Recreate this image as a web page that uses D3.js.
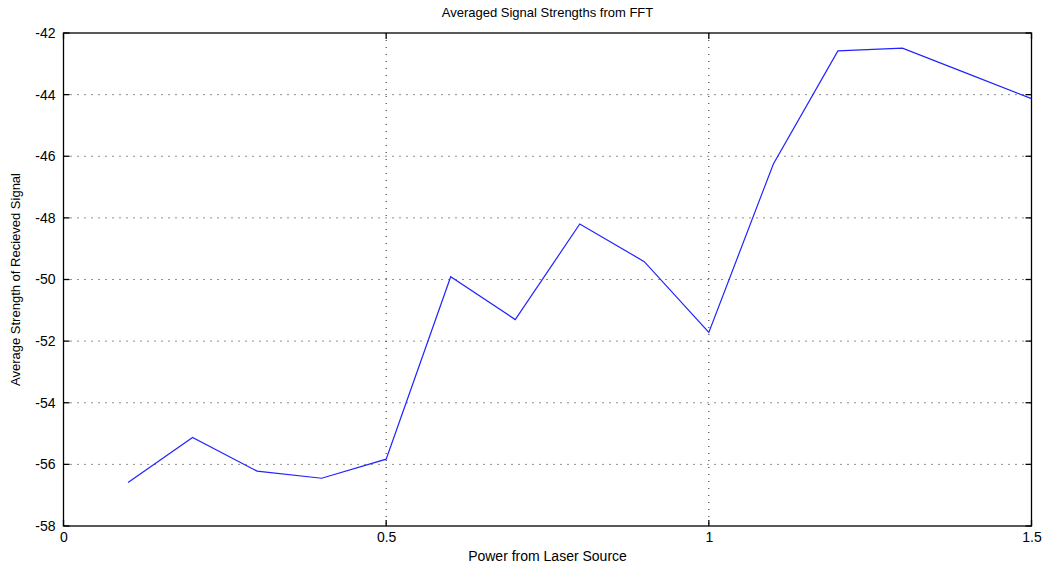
<!DOCTYPE html>
<html><head><meta charset="utf-8">
<script src="https://cdn.jsdelivr.net/npm/d3@7"></script>
<style>body{margin:0;background:#fff;} svg{display:block;}</style>
</head><body>
<script>
const powers = [0.1,0.2,0.3,0.4,0.5,0.6,0.7,0.8,0.9,1.0,1.1,1.2,1.3,1.4,1.5];
const strengths = [-56.59,-55.13,-56.22,-56.45,-55.83,-49.91,-51.30,-48.20,-49.42,-51.72,-46.25,-42.58,-42.49,-43.31,-44.13];
const xTicks = [0,0.5,1,1.5];
const xTickLabels = ["0","0.5","1","1.5"];
const yTicks = [-58,-56,-54,-52,-50,-48,-46,-44,-42];
const titleText = "Averaged Signal Strengths from FFT";
const xLabelText = "Power from Laser Source";
const yLabelText = "Average Strength of Recieved Signal";

const W=1048,H=567;
const m={l:63.5,r:16.5,t:33,b:41};
const svg=d3.select("body").append("svg").attr("width",W).attr("height",H);
const x=d3.scaleLinear().domain([0,1.5]).range([m.l,W-m.r]);
const y=d3.scaleLinear().domain([-58,-42]).range([H-m.b,m.t]);
const font="'Liberation Sans', Arial, sans-serif";

// grid
const g=svg.append("g");
g.selectAll(".gx").data(xTicks.slice(1,-1)).enter().append("line")
 .attr("x1",d=>x(d)).attr("x2",d=>x(d)).attr("y1",y(-42)).attr("y2",y(-58))
 .attr("stroke","#222").attr("stroke-width",1).attr("stroke-dasharray","1,6");
g.selectAll(".gy").data(yTicks.slice(1,-1)).enter().append("line")
 .attr("x1",x(0)).attr("x2",x(1.5)).attr("y1",d=>y(d)).attr("y2",d=>y(d))
 .attr("stroke","#222").attr("stroke-width",1).attr("stroke-dasharray","1,6");

// axes
const xAx=d3.axisBottom(x).tickValues(xTicks).tickFormat((d,i)=>xTickLabels[i]).tickSize(0).tickPadding(6);
const yAx=d3.axisLeft(y).tickValues(yTicks).tickFormat(d=>d).tickSize(0).tickPadding(8);
const xa=svg.append("g").attr("transform",`translate(0,${y(-58)})`).call(xAx);
const ya=svg.append("g").attr("transform",`translate(${x(0)},0)`).call(yAx);
[xa,ya].forEach(a=>{a.select(".domain").remove();a.selectAll("text").attr("font-family",font).attr("font-size",14).attr("fill","#000");});

// inner ticks
const tl=6;
xTicks.forEach(t=>{
  svg.append("line").attr("x1",x(t)).attr("x2",x(t)).attr("y1",y(-58)).attr("y2",y(-58)-tl).attr("stroke","#000").attr("stroke-width",1.3);
  svg.append("line").attr("x1",x(t)).attr("x2",x(t)).attr("y1",y(-42)).attr("y2",y(-42)+tl).attr("stroke","#000").attr("stroke-width",1.3);
});
yTicks.forEach(t=>{
  svg.append("line").attr("x1",x(0)).attr("x2",x(0)+tl).attr("y1",y(t)).attr("y2",y(t)).attr("stroke","#000").attr("stroke-width",1.3);
  svg.append("line").attr("x1",x(1.5)).attr("x2",x(1.5)-tl).attr("y1",y(t)).attr("y2",y(t)).attr("stroke","#000").attr("stroke-width",1.3);
});
svg.append("rect").attr("x",x(0)).attr("y",y(-42)).attr("width",x(1.5)-x(0)).attr("height",y(-58)-y(-42))
 .attr("fill","none").attr("stroke","#000").attr("stroke-width",1.3);

// line
const data=powers.map((p,i)=>({p,s:strengths[i]}));
svg.append("path").datum(data).attr("fill","none").attr("stroke","#2222ff").attr("stroke-width",1.2)
 .attr("d",d3.line().x(d=>x(d.p)).y(d=>y(d.s)));

// labels
svg.append("text").attr("x",(x(0)+x(1.5))/2).attr("y",17).attr("text-anchor","middle")
 .attr("font-family",font).attr("font-size",13).text(titleText);
svg.append("text").attr("x",(x(0)+x(1.5))/2).attr("y",561).attr("text-anchor","middle")
 .attr("font-family",font).attr("font-size",14).text(xLabelText);
svg.append("text").attr("transform",`translate(20,${(y(-42)+y(-58))/2}) rotate(-90)`).attr("text-anchor","middle")
 .attr("font-family",font).attr("font-size",13).text(yLabelText);
</script>
</body></html>
